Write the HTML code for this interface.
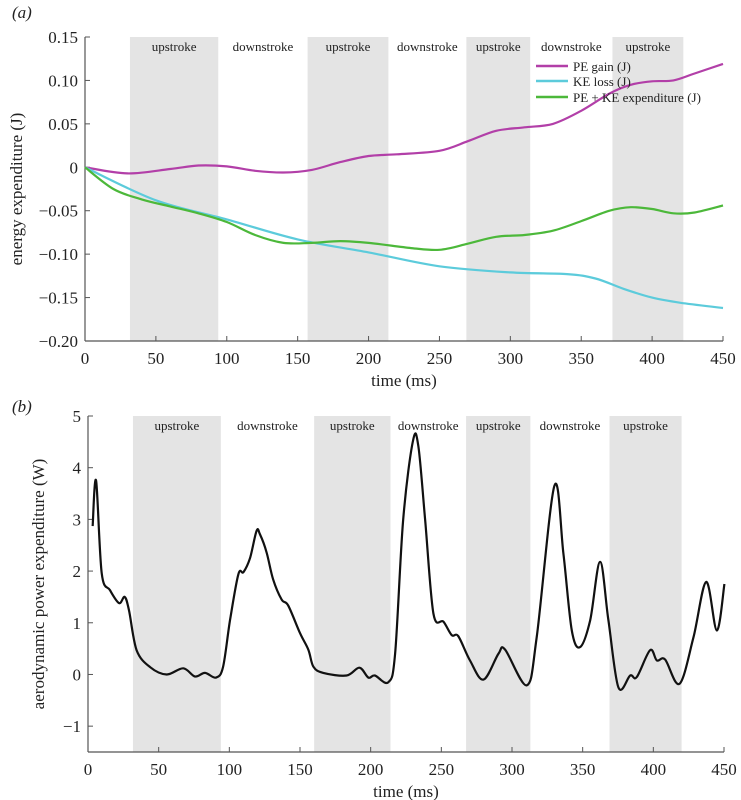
<!DOCTYPE html>
<html><head><meta charset="utf-8"><style>
body{margin:0;background:#fff;}
svg{display:block;font-family:"Liberation Serif",serif;}
</style></head><body>
<svg id="chart" width="741" height="800"></svg>
<script>
const bandsA=[[31.7,94],[157,214],[269,314],[372,422]];
const bandsB=[[31.8,94],[160,214],[267.5,313],[369,420]];
const strokeLabelsA=["upstroke","downstroke","upstroke","downstroke","upstroke","downstroke","upstroke"];
const xTicks=[0,50,100,150,200,250,300,350,400,450];
const yTicksA=[0.15,0.10,0.05,0,-0.05,-0.10,-0.15,-0.20];
const yTickLabelsA=["0.15","0.10","0.05","0","\u22120.05","\u22120.10","\u22120.15","\u22120.20"];
const yTicksB=[5,4,3,2,1,0,-1];
const yTickLabelsB=["5","4","3","2","1","0","\u22121"];
const peT=[0,30,60,80,100,120,140,160,180,200,220,250,270,290,310,330,350,370,385,400,415,430,450];
const peV=[0,-0.007,-0.002,0.002,0.001,-0.004,-0.006,-0.003,0.006,0.013,0.015,0.019,0.03,0.042,0.046,0.05,0.065,0.085,0.095,0.099,0.1,0.108,0.119];
const keT=[0,50,100,150,200,250,300,340,360,380,400,420,450];
const keV=[0,-0.038,-0.06,-0.083,-0.098,-0.114,-0.121,-0.123,-0.128,-0.14,-0.15,-0.156,-0.162];
const totT=[0,20,40,60,80,100,120,140,160,180,200,230,250,270,290,310,330,350,370,385,400,415,430,450];
const totV=[0,-0.025,-0.037,-0.045,-0.053,-0.063,-0.078,-0.087,-0.087,-0.085,-0.087,-0.093,-0.095,-0.088,-0.08,-0.078,-0.073,-0.062,-0.05,-0.046,-0.048,-0.053,-0.052,-0.044];
const powT=[3.3,5.7,9.7,15.6,22,26,29,34.4,44,55.7,67.4,75.7,82.8,90.6,95.6,100.5,106.4,110,114.6,119.3,121.7,126.4,131,137,141.7,150,155.9,159.5,166.5,183,192,198.4,203,212.5,217.3,223,230,233.8,238.5,244.4,251.5,257.4,262,270.3,279.8,290.4,295.1,310.5,317.5,330,336.4,342.3,348.2,355.3,362.3,368.2,375.3,383.6,388.3,397.7,402.5,408.3,418.5,428.4,437.4,444.9,450.3];
const powV=[2.87,3.75,1.96,1.63,1.38,1.5,1.24,0.47,0.14,0,0.12,-0.04,0.03,-0.06,0.15,1.05,1.94,1.98,2.25,2.78,2.71,2.36,1.84,1.45,1.33,0.8,0.48,0.15,0.03,-0.02,0.13,-0.06,-0.02,-0.15,0.4,3.0,4.53,4.41,3.0,1.18,1.02,0.76,0.74,0.27,-0.1,0.4,0.48,-0.21,0.72,3.65,2.34,0.85,0.53,1.05,2.18,1.05,-0.25,-0.02,-0.05,0.47,0.27,0.29,-0.18,0.72,1.79,0.85,1.75];

const svg=document.getElementById('chart');
const NS='http://www.w3.org/2000/svg';
function mk(tag,attrs,parent,text){const e=document.createElementNS(NS,tag);for(const k in attrs)e.setAttribute(k,attrs[k]);if(text!==undefined)e.textContent=text;(parent||svg).appendChild(e);return e;}
function smooth(pts){let d='M'+pts[0][0]+','+pts[0][1];for(let i=0;i<pts.length-1;i++){const p0=pts[Math.max(0,i-1)],p1=pts[i],p2=pts[i+1],p3=pts[Math.min(pts.length-1,i+2)];const c1x=p1[0]+(p2[0]-p0[0])/6,c1y=p1[1]+(p2[1]-p0[1])/6,c2x=p2[0]-(p3[0]-p1[0])/6,c2y=p2[1]-(p3[1]-p1[1])/6;d+=' C'+c1x.toFixed(1)+','+c1y.toFixed(1)+' '+c2x.toFixed(1)+','+c2y.toFixed(1)+' '+p2[0].toFixed(1)+','+p2[1].toFixed(1);}return d;}

function panel(o){
  const g=mk('g',{});
  
  
  const xs=t=>o.x0+(t/450)*(o.x1-o.x0);
  const ys=v=>o.yz+(o.vTop-v)/(o.vTop-o.vBot)*(o.yb-o.yz);
  // bands
  o.bands.forEach((b,i)=>{const r=mk('rect',{x:xs(b[0]),y:o.yz,width:xs(b[1])-xs(b[0]),height:o.yb-o.yz,fill:'#e4e4e4'},g);
    
    });
  // band labels
  const edges=[];o.bands.forEach(b=>{edges.push(b[0],b[1]);});
  for(let i=0;i<7;i++){const a=edges[i],b=edges[i+1];const t=mk('text',{x:(xs(a)+xs(b))/2,y:o.yz+14,'text-anchor':'middle','font-size':13,fill:'#222'},g,strokeLabelsA[i]);
    
    }
  // axes
  mk('line',{x1:o.x0,y1:o.yz,x2:o.x0,y2:o.yb,stroke:'#555','stroke-width':1.2},g);
  mk('line',{x1:o.x0,y1:o.yb,x2:o.x1,y2:o.yb,stroke:'#555','stroke-width':1.2},g);
  xTicks.forEach(t=>{mk('line',{x1:xs(t),y1:o.yb,x2:xs(t),y2:o.yb-5,stroke:'#555'},g);
    const l=mk('text',{x:xs(t),y:o.yb+23,'text-anchor':'middle','font-size':17,fill:'#222'},g,String(t));
    
    });
  o.yt.forEach((v,i)=>{mk('line',{x1:o.x0,y1:ys(v),x2:o.x0+5,y2:ys(v),stroke:'#555'},g);
    const l=mk('text',{x:o.x0-7,y:ys(v)+6,'text-anchor':'end','font-size':17,fill:'#222'},g,o.ytl[i]);
    
    });
  const xt=mk('text',{x:(o.x0+o.x1)/2,y:o.yb+45,'text-anchor':'middle','font-size':17,fill:'#222'},g,'time (ms)');
  
  
  const yc=(o.yz+o.yb)/2;
  const yt=mk('text',{x:o.ytx,y:yc,'text-anchor':'middle','font-size':17,fill:'#222',transform:'rotate(-90 '+o.ytx+' '+yc+')'},g,o.ytitle);
  
  
  o.series.forEach(s=>{const pts=s.t.map((t,i)=>[xs(t),ys(s.v[i])]);
    const p=mk('path',{d:smooth(pts),fill:'none',stroke:s.c,'stroke-width':2.2,'stroke-linejoin':'round'},g);
    
    });
  const pl=mk('text',{x:12,y:o.labelY,'font-size':17,'font-style':'italic',fill:'#222'},g,o.label);
  
  
  return g;
}
panel({name:'panel-a',x0:85,x1:723,yz:37,yb:341,vTop:0.15,vBot:-0.20,bands:bandsA,yt:yTicksA,ytl:yTickLabelsA,ytx:22,ytitle:'energy expenditure (J)',label:'(a)',labelY:18,
  series:[{t:peT,v:peV,c:'#b23fa8',name:'pe-gain-line'},{t:keT,v:keV,c:'#5ccbdb',name:'ke-loss-line'},{t:totT,v:totV,c:'#4cb83a',name:'pe-ke-expenditure-line'}]});
panel({name:'panel-b',x0:88,x1:724,yz:416,yb:752,vTop:5,vBot:-1.5,bands:bandsB,yt:yTicksB,ytl:yTickLabelsB,ytx:44,ytitle:'aerodynamic power expenditure (W)',label:'(b)',labelY:412,
  series:[{t:powT,v:powV,c:'#111',name:'power-line'}]});
// legend
const leg=mk('g',{});


[['PE gain (J)','#b23fa8',66],['KE loss (J)','#5ccbdb',81],['PE + KE expenditure (J)','#4cb83a',97]].forEach(e=>{
  mk('line',{x1:536,y1:e[2],x2:568,y2:e[2],stroke:e[1],'stroke-width':2.5},leg);
  const t=mk('text',{x:573,y:e[2]+5,'font-size':13,fill:'#222'},leg,e[0]);
  
  
});
</script>
</body></html>
